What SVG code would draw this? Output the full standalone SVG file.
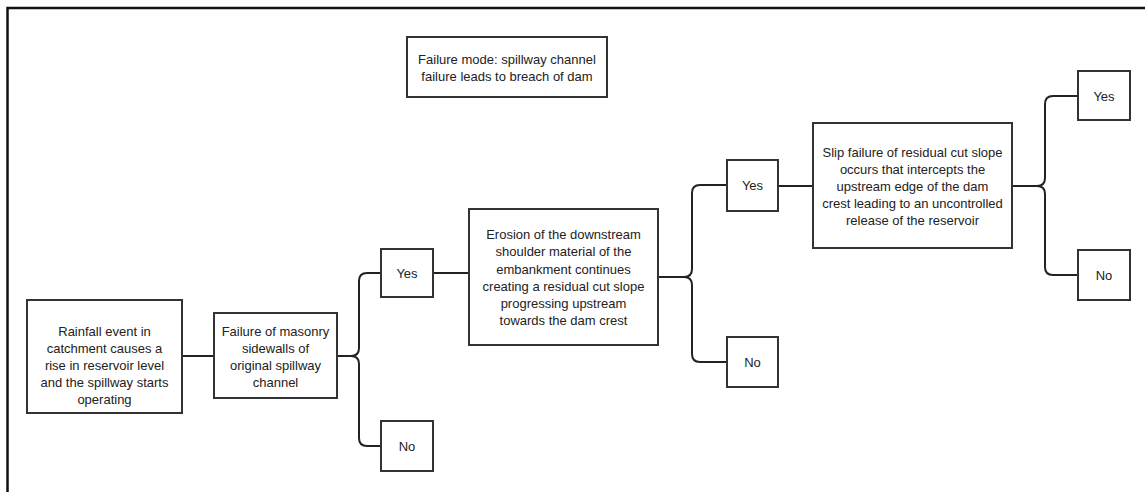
<svg xmlns="http://www.w3.org/2000/svg" width="1145" height="492" viewBox="0 0 1145 492">
<style>
.box{fill:#fff;stroke:#333;stroke-width:2}
.t{font-family:"Liberation Sans",Arial,sans-serif;font-size:13px;fill:#222;text-anchor:middle}
.c{fill:none;stroke:#222;stroke-width:2}
</style>
<rect width="1145" height="492" fill="#fff"/>
<path d="M7.5,492 V8 H1145" fill="none" stroke="#111" stroke-width="2.5"/>
<g id="connectors">
<path class="c" d="M182,356 H214"/>
<path class="c" d="M337,356 H351 Q359,356 359,348 V281 Q359,273 367,273 H381 M351,356 Q359,356 359,364 V438 Q359,446 367,446 H381"/>
<path class="c" d="M433,273 H469"/>
<path class="c" d="M658,277 H684 Q692,277 692,269 V193 Q692,185 700,185 H727 M684,277 Q692,277 692,285 V354 Q692,362 700,362 H727"/>
<path class="c" d="M778,186 H813"/>
<path class="c" d="M1012,186 H1037 Q1045,186 1045,178 V104 Q1045,96 1053,96 H1078 M1037,186 Q1045,186 1045,194 V267 Q1045,275 1053,275 H1078"/>
</g>
<g id="title">
<rect class="box" x="407" y="37" width="200" height="60"/>
<text class="t" x="507" y="64">Failure mode: spillway channel</text>
<text class="t" x="507" y="81">failure leads to breach of dam</text>
</g>
<g id="n1">
<rect class="box" x="27" y="300" width="155" height="113"/>
<text class="t" x="104.5" y="336">Rainfall event in</text>
<text class="t" x="104.5" y="353">catchment causes a</text>
<text class="t" x="104.5" y="370">rise in reservoir level</text>
<text class="t" x="104.5" y="387">and the spillway starts</text>
<text class="t" x="104.5" y="404">operating</text>
</g>
<g id="n2">
<rect class="box" x="214" y="313" width="123" height="85"/>
<text class="t" x="275.5" y="336">Failure of masonry</text>
<text class="t" x="275.5" y="353">sidewalls of</text>
<text class="t" x="275.5" y="370">original spillway</text>
<text class="t" x="275.5" y="387">channel</text>
</g>
<g id="yes1">
<rect class="box" x="381" y="249" width="52" height="48"/>
<text class="t" x="407" y="278">Yes</text>
</g>
<g id="no1">
<rect class="box" x="381" y="421" width="52" height="50"/>
<text class="t" x="407" y="451">No</text>
</g>
<g id="n3">
<rect class="box" x="469" y="209" width="189" height="136"/>
<text class="t" x="563.5" y="239">Erosion of the downstream</text>
<text class="t" x="563.5" y="256">shoulder material of the</text>
<text class="t" x="563.5" y="274">embankment continues</text>
<text class="t" x="563.5" y="291">creating a residual cut slope</text>
<text class="t" x="563.5" y="308">progressing upstream</text>
<text class="t" x="563.5" y="325">towards the dam crest</text>
</g>
<g id="yes2">
<rect class="box" x="727" y="160" width="51" height="51"/>
<text class="t" x="752.5" y="190">Yes</text>
</g>
<g id="no2">
<rect class="box" x="727" y="337" width="51" height="50"/>
<text class="t" x="752.5" y="367">No</text>
</g>
<g id="n4">
<rect class="box" x="813" y="123" width="199" height="125"/>
<text class="t" x="912.5" y="157">Slip failure of residual cut slope</text>
<text class="t" x="912.5" y="174">occurs that intercepts the</text>
<text class="t" x="912.5" y="191">upstream edge of the dam</text>
<text class="t" x="912.5" y="208">crest leading to an uncontrolled</text>
<text class="t" x="912.5" y="225">release of the reservoir</text>
</g>
<g id="yes3">
<rect class="box" x="1078" y="71" width="52" height="49"/>
<text class="t" x="1104" y="101">Yes</text>
</g>
<g id="no3">
<rect class="box" x="1078" y="250" width="52" height="50"/>
<text class="t" x="1104" y="280">No</text>
</g>
</svg>
